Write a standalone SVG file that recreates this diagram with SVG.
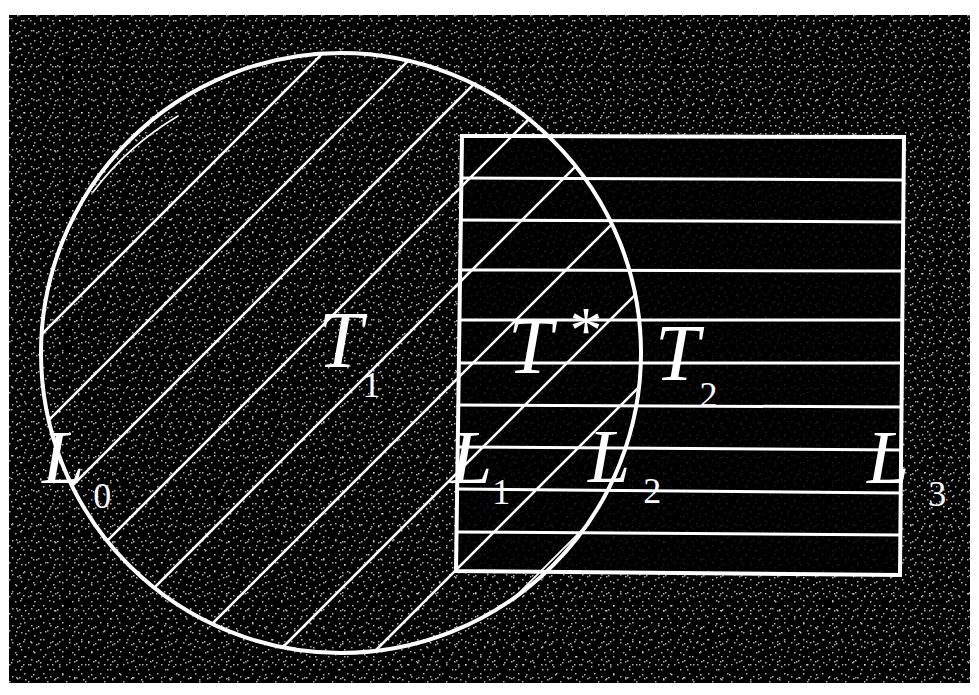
<svg xmlns="http://www.w3.org/2000/svg" width="979" height="695" viewBox="0 0 979 695">
  <style>
    .ln { stroke: #fff; fill: none; stroke-linecap: round; }
    .outline { stroke-width: 4; }
    .hatch { stroke-width: 2.6; }
    .hz { stroke-width: 3; }
    .thin { stroke-width: 1.8; }
    .lbl { font-family: "Liberation Serif", "Times New Roman", serif; font-style: italic; fill: #fff; font-size: 80px; }
    .L { font-size: 76px; }
    .sub { font-family: "Liberation Serif", "Times New Roman", serif; font-style: normal; fill: #fff; font-size: 36px; }
    .star { font-style: normal; font-size: 66px; }
  </style>
  <defs>
    <pattern id="sp1" width="19" height="17" patternUnits="userSpaceOnUse">
      <rect x="2" y="3" width="1.5" height="1.5" fill="#fff"/>
      <rect x="9" y="1" width="1.5" height="1.5" fill="#fff"/>
      <rect x="15" y="6" width="1.5" height="1.5" fill="#fff"/>
      <rect x="5" y="10" width="1.5" height="1.5" fill="#fff"/>
      <rect x="12" y="13" width="1.5" height="1.5" fill="#fff"/>
      <rect x="17" y="15" width="1.5" height="1.5" fill="#fff"/>
      <rect x="0" y="14" width="1.5" height="1.5" fill="#fff"/>
    </pattern>
    <pattern id="sp2" width="29" height="23" patternUnits="userSpaceOnUse">
      <rect x="4" y="7" width="1.5" height="1.5" fill="#fff"/>
      <rect x="20" y="2" width="1.5" height="1.5" fill="#fff"/>
      <rect x="25" y="12" width="1.5" height="1.5" fill="#fff"/>
      <rect x="11" y="18" width="1.5" height="1.5" fill="#fff"/>
      <rect x="16" y="10" width="1.5" height="1.5" fill="#fff"/>
      <rect x="1" y="20" width="1.5" height="1.5" fill="#fff"/>
      <rect x="23" y="20" width="1.5" height="1.5" fill="#fff"/>
    </pattern>
    <clipPath id="circ">
      <circle cx="341" cy="353" r="299"/>
    </clipPath>
  </defs>

  <rect x="0" y="0" width="979" height="695" fill="#fff"/>
  <g id="background">
    <rect x="9" y="15" width="961" height="668" fill="#000"/>
    <rect x="9" y="15" width="961" height="668" fill="url(#sp1)" opacity="0.7"/>
    <rect x="9" y="15" width="961" height="668" fill="url(#sp2)" opacity="0.7"/>
    <path d="M462,136 L904,137 L900,575 L456,571 Z" fill="#000" opacity="0.85"/>
  </g>

  <g id="circle-T1">
    <circle class="ln outline" cx="341" cy="353" r="300"/>
    <path class="ln thin" d="M93,192 A293,293 0 0 1 178,116"/>
  </g>

  <g id="diagonal-hatching" clip-path="url(#circ)">
    <line class="ln hatch" x1="376" y1="0" x2="-324" y2="700"/>
    <line class="ln hatch" x1="469" y1="0" x2="-231" y2="700"/>
    <line class="ln hatch" x1="558" y1="0" x2="-142" y2="700"/>
    <line class="ln hatch" x1="648" y1="0" x2="-52" y2="700"/>
    <line class="ln hatch" x1="742" y1="0" x2="42" y2="700"/>
    <line class="ln hatch" x1="836" y1="0" x2="136" y2="700"/>
    <line class="ln hatch" x1="930" y1="0" x2="230" y2="700"/>
    <line class="ln hatch" x1="1026" y1="0" x2="326" y2="700"/>
    <line class="ln thin" x1="1112" y1="0" x2="412" y2="700"/>
  </g>

  <g id="rectangle-T2">
    <path class="ln outline" d="M462,136 L904,137 L900,575 L456,571 Z"/>
  </g>

  <g id="horizontal-hatching">
    <line class="ln hz" x1="461.4" y1="178" x2="903.6" y2="180"/>
    <line class="ln hz" x1="460.8" y1="220" x2="903.2" y2="222"/>
    <line class="ln hz" x1="460.1" y1="270" x2="902.8" y2="271"/>
    <line class="ln hz" x1="459.4" y1="320" x2="902.3" y2="320"/>
    <line class="ln hz" x1="458.8" y1="363" x2="901.9" y2="363"/>
    <line class="ln hz" x1="458.2" y1="405" x2="901.5" y2="407"/>
    <line class="ln hz" x1="457.6" y1="447" x2="901.1" y2="450"/>
    <line class="ln hz" x1="457.0" y1="489" x2="900.7" y2="493"/>
    <line class="ln hz" x1="456.4" y1="532" x2="900.3" y2="535"/>
  </g>

  <g id="label-T1">
    <text class="lbl" x="318" y="367">T<tspan class="sub" dy="30">1</tspan></text>
  </g>
  <g id="label-Tstar">
    <text class="lbl" x="508" y="373">T<tspan class="star" dx="17" dy="-21">*</tspan></text>
  </g>
  <g id="label-T2">
    <text class="lbl" x="655" y="380">T<tspan class="sub" dy="27">2</tspan></text>
  </g>
  <g id="label-L0">
    <text class="lbl L" x="42" y="483">L<tspan class="sub" dx="9" dy="25">0</tspan></text>
  </g>
  <g id="label-L1">
    <text class="lbl L" x="450" y="483">L<tspan class="sub" dy="21">1</tspan></text>
  </g>
  <g id="label-L2">
    <text class="lbl L" x="588" y="482">L<tspan class="sub" dx="13" dy="21">2</tspan></text>
  </g>
  <g id="label-L3">
    <text class="lbl L" x="867" y="483">L<tspan class="sub" dx="19" dy="23">3</tspan></text>
  </g>
</svg>
